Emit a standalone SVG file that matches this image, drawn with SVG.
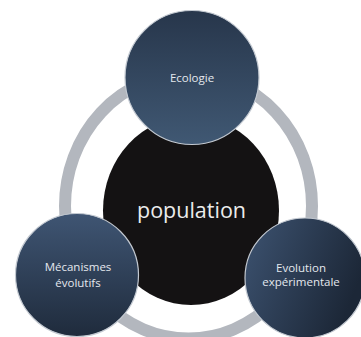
<svg xmlns="http://www.w3.org/2000/svg" width="361" height="337" viewBox="0 0 361 337">
  <defs>
    <linearGradient id="gTop" x1="0" y1="0" x2="0" y2="1">
      <stop offset="0" stop-color="#27364b"/>
      <stop offset="1" stop-color="#405873"/>
    </linearGradient>
    <linearGradient id="gLeft" x1="0" y1="0" x2="0" y2="1">
      <stop offset="0" stop-color="#3f5573"/>
      <stop offset="1" stop-color="#1f2b3c"/>
    </linearGradient>
    <linearGradient id="gRight" x1="0" y1="0" x2="1" y2="0.4">
      <stop offset="0" stop-color="#3d5371"/>
      <stop offset="1" stop-color="#1c2737"/>
    </linearGradient>
  </defs>
  <style>
    .sat { stroke: #c3c9d1; stroke-width: 1.2; }
    .lbl { font-family: "Open Sans", "Liberation Sans", sans-serif; font-size: 11.5px; fill: #e4e8ee; text-anchor: middle; }
    .main { font-family: "Open Sans", "Liberation Sans", sans-serif; font-size: 21.5px; fill: #ececec; text-anchor: middle; }
  </style>
  <rect width="361" height="337" fill="#ffffff"/>
  <g id="connectors">
    <ellipse cx="188.5" cy="206" rx="123.5" ry="132.5" fill="none" stroke="#b3b7be" stroke-width="12"/>
  </g>
  <g id="population">
    <ellipse cx="191" cy="210.5" rx="88" ry="94.5" fill="#141213"/>
    <text class="main" x="191.5" y="218">population</text>
  </g>
  <g id="ecologie">
    <circle class="sat" cx="192" cy="77.5" r="67" fill="url(#gTop)"/>
    <text class="lbl" x="192" y="82">Ecologie</text>
  </g>
  <g id="mecanismes">
    <circle class="sat" cx="77" cy="275" r="61.5" fill="url(#gLeft)"/>
    <text class="lbl" x="78" y="271">Mécanismes</text>
    <text class="lbl" x="78" y="286.5">évolutifs</text>
  </g>
  <g id="evolution">
    <circle class="sat" cx="305" cy="278" r="60" fill="url(#gRight)"/>
    <text class="lbl" x="301" y="272">Evolution</text>
    <text class="lbl" x="301" y="286">expérimentale</text>
  </g>
</svg>
